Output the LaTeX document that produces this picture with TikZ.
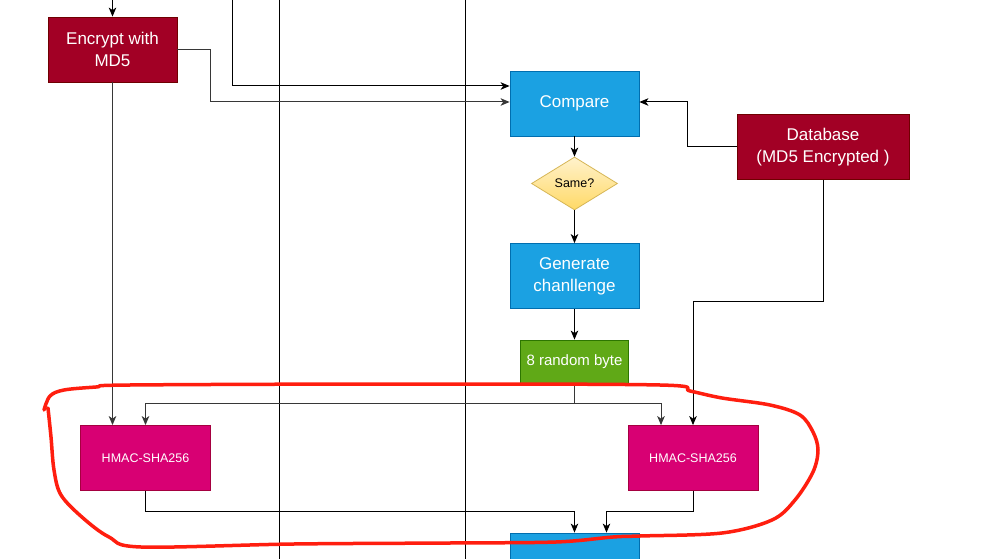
\documentclass[tikz,border=0pt]{standalone}
\usepackage{fontspec}
\setmainfont{Liberation Sans}
\usetikzlibrary{shapes.geometric,arrows.meta}
\definecolor{md5red}{HTML}{A20025}
\definecolor{md5line}{HTML}{6F0000}
\definecolor{stepblue}{HTML}{1BA1E2}
\definecolor{stepline}{HTML}{006EAF}
\definecolor{bytegreen}{HTML}{60A917}
\definecolor{byteline}{HTML}{2D7600}
\definecolor{hmacpink}{HTML}{D80073}
\definecolor{hmacline}{HTML}{A50040}
\definecolor{sametop}{HTML}{FFF2CC}
\definecolor{samebot}{HTML}{FFD966}
\definecolor{sameline}{HTML}{D6B656}
\definecolor{markred}{HTML}{FF1E0F}
\begin{document}
\begin{tikzpicture}[x=1pt,y=-1pt]
\tikzstyle{every node}+=[inner sep=0pt]
\tikzstyle{box}=[draw, line width=0.8pt, text=white, align=center, minimum width=129pt, minimum height=65pt, font=\fontsize{17}{22}\selectfont]
\tikzstyle{redbox}=[box, fill=md5red, draw=md5line]
\tikzstyle{bluebox}=[box, fill=stepblue, draw=stepline]
\tikzstyle{hmacbox}=[box, fill=hmacpink, draw=hmacline, minimum width=130pt, font=\fontsize{12.5}{15}\selectfont]
\tikzstyle{arr}=[-{Stealth[length=9pt,width=7.5pt,inset=2.5pt]}, line width=1pt, black]
\tikzstyle{greyarr}=[arr, draw={rgb,255:red,55;green,55;blue,55}]
\clip (0,0) rectangle (997,559);
\fill[white] (0,0) rectangle (997,559);
\draw[line width=1pt] (279,0) -- (279,559);
\draw[line width=1pt] (465,0) -- (465,559);
\coordinate (inA) at (112.5,0);
\coordinate (inB) at (232,0);
\node[redbox] (encrypt) at (112.5,49.5) {Encrypt with\\MD5};
\node[bluebox] (compare) at (574.5,103.5) {Compare};
\node[redbox, minimum width=172pt] (database) at (823,147) {Database\\ (MD5 Encrypted )};
\node[diamond, draw=sameline, line width=0.8pt, top color=sametop, bottom color=samebot, minimum width=86pt, minimum height=53pt, font=\fontsize{12.5}{15}\selectfont] (same) at (574.5,183.5) {Same?};
\node[bluebox] (challenge) at (574.5,276) {Generate\\chanllenge};
\node[box, fill=bytegreen, draw=byteline, minimum width=108pt, minimum height=44pt, font=\fontsize{15}{18}\selectfont] (random) at (574.5,362) {8 random byte};
\node[hmacbox] (hmacL) at (145.5,458) {HMAC-SHA256};
\node[hmacbox] (hmacR) at (693,458) {HMAC-SHA256};
\node[bluebox, minimum height=64pt] (next) at (574.5,565) {};
\draw[arr] (inA) -- (encrypt.north);
\draw[arr] (inB) |- ([yshift=17.5pt]compare.west);
\draw[greyarr] (encrypt.east) -- ++(33,0) |- ([yshift=1.5pt]compare.west);
\draw[arr] (database.west) -- ++(-49,0) |- ([yshift=1.5pt]compare.east);
\draw[arr] (compare.south) -- (same.north);
\draw[arr] (same.south) -- (challenge.north);
\draw[arr] (challenge.south) -- (random.north);
\draw[arr] (database.south) -- ++(0,122) -| (hmacR.north);
\draw[greyarr] (encrypt.south) -- (encrypt.south |- hmacL.north);
\draw[greyarr] (random.south) -- ++(0,19.5) -| (hmacL.north);
\draw[greyarr] (random.south) -- ++(0,19.5) -| ([xshift=-32pt]hmacR.north);
\draw[arr] (hmacL.south) -- ++(0,21) -| (next.north);
\draw[arr] (hmacR.south) -- ++(0,21) -| ([xshift=32pt]next.north);
\draw[markred, line width=3.5pt, line cap=round, line join=round] plot[smooth, tension=0.55] coordinates {(44,410) (50,396) (64,390) (96,387) (130,385) (400,384) (660,385) (690,391) (722,398) (770,405) (800,415) (813,432) (818,450) (813,472) (795,500) (772,520) (722,533) (640,536) (613,537) (556,542) (450,543) (294,544) (141,547) (109,537) (83,518) (61,495) (54,470) (51,437) (48,408)};
\end{tikzpicture}
\end{document}
